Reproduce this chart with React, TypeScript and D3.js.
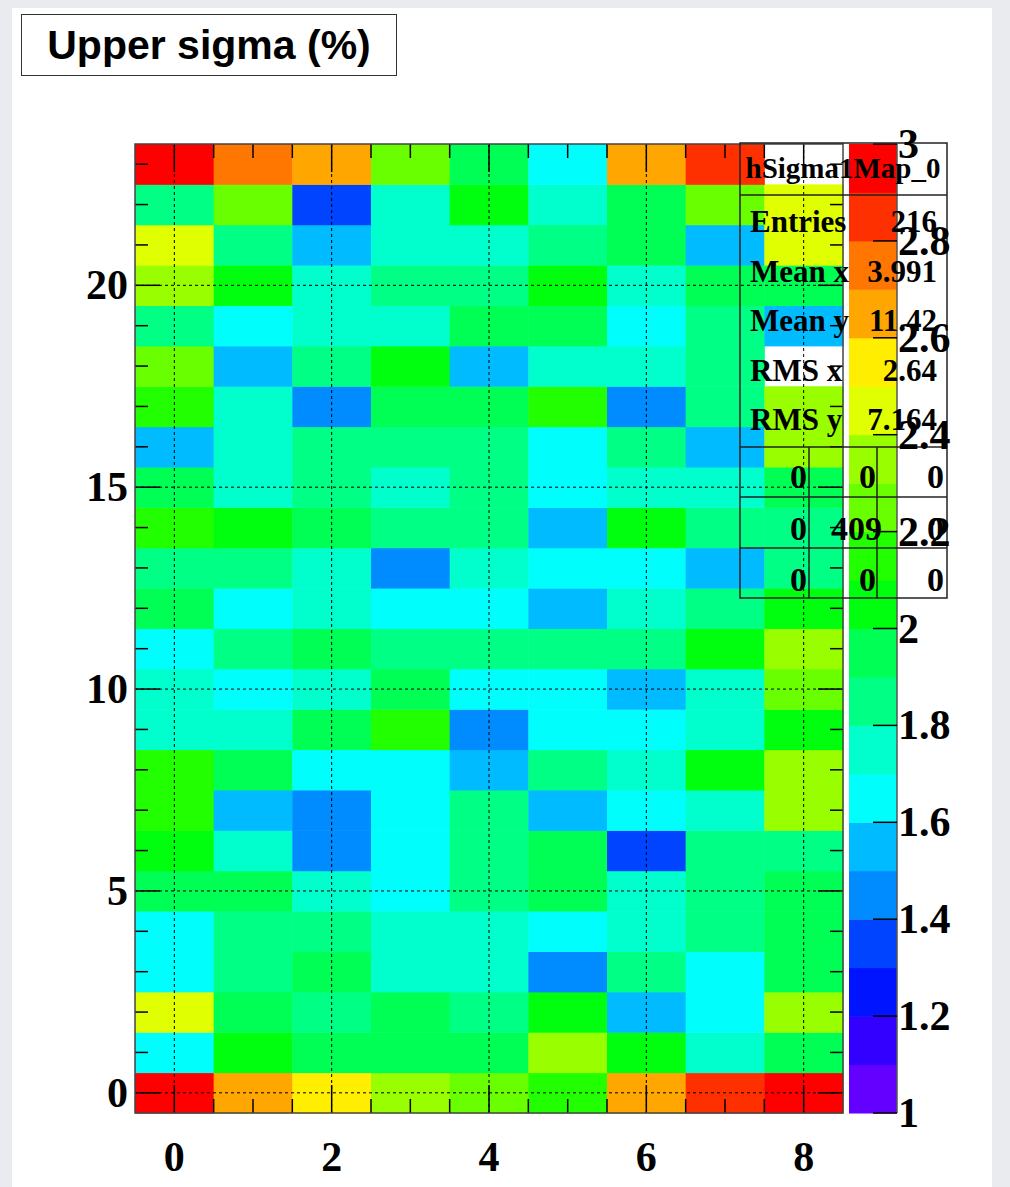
import React from "react";
import * as d3 from "d3";

// bin centres
const xBins = [0, 1, 2, 3, 4, 5, 6, 7, 8];
const yBins = [0, 1, 2, 3, 4, 5, 6, 7, 8, 9, 10, 11, 12, 13, 14, 15, 16, 17, 18, 19, 20, 21, 22, 23];

// upper sigma (%) per bin, one row per y bin (y = 0 first), columns x = 0..8
// null = empty bin (not painted)
const sigmaRows: (number | null)[][] = [
  [2.95, 2.65, 2.55, 2.35, 2.25, 2.15, 2.65, 2.85, 2.95],
  [1.65, 2.05, 1.95, 1.95, 1.95, 2.35, 2.05, 1.75, 1.95],
  [2.45, 1.95, 1.85, 1.95, 1.85, 2.05, 1.55, 1.65, 2.35],
  [1.65, 1.85, 1.95, 1.75, 1.75, 1.45, 1.85, 1.65, 1.95],
  [1.65, 1.85, 1.85, 1.75, 1.75, 1.65, 1.75, 1.85, 1.95],
  [1.95, 1.95, 1.75, 1.65, 1.85, 1.95, 1.75, 1.85, 1.95],
  [2.05, 1.75, 1.45, 1.65, 1.85, 1.95, 1.35, 1.85, 1.85],
  [2.15, 1.55, 1.45, 1.65, 1.85, 1.55, 1.65, 1.75, 2.35],
  [2.15, 1.95, 1.65, 1.65, 1.55, 1.85, 1.75, 2.05, 2.35],
  [1.75, 1.75, 1.95, 2.15, 1.45, 1.65, 1.65, 1.75, 2.05],
  [1.75, 1.65, 1.75, 1.95, 1.65, 1.65, 1.55, 1.75, 2.25],
  [1.65, 1.85, 1.95, 1.85, 1.85, 1.85, 1.85, 2.05, 2.35],
  [1.95, 1.65, 1.75, 1.65, 1.65, 1.55, 1.75, 1.85, 2.05],
  [1.85, 1.85, 1.75, 1.45, 1.75, 1.65, 1.65, 1.55, 1.85],
  [2.15, 2.05, 1.95, 1.85, 1.85, 1.55, 2.05, 1.85, 1.85],
  [1.95, 1.75, 1.85, 1.75, 1.85, 1.65, 1.75, 1.75, 1.95],
  [1.55, 1.75, 1.85, 1.85, 1.85, 1.65, 1.85, 1.55, 2.35],
  [2.15, 1.75, 1.45, 1.95, 1.95, 2.15, 1.45, 1.85, 2.35],
  [2.25, 1.55, 1.85, 2.05, 1.55, 1.75, 1.75, 1.85, null],
  [1.85, 1.65, 1.75, 1.75, 1.95, 1.95, 1.65, 1.85, 1.55],
  [2.35, 2.05, 1.75, 1.85, 1.85, 2.05, 1.75, 1.95, 1.95],
  [2.45, 1.85, 1.55, 1.75, 1.75, 1.85, 1.95, 1.55, 2.45],
  [1.85, 2.25, 1.35, 1.75, 2.05, 1.75, 1.95, 2.25, 2.45],
  [2.95, 2.75, 2.65, 2.25, 1.95, 1.65, 2.65, 2.85, null],
];

const xTickLabels = [0, 2, 4, 6, 8];
const yTickLabels = [0, 5, 10, 15, 20];
const zTickLabels = [1, 1.2, 1.4, 1.6, 1.8, 2, 2.2, 2.4, 2.6, 2.8, 3];

// ROOT rainbow palette, 20 contours from 1 to 3
const palette = [
  "#6300ff", "#3300ff", "#0014ff", "#0044ff", "#008bff",
  "#00bbff", "#00fffc", "#00ffcc", "#00ff85", "#00ff55",
  "#00ff0e", "#22ff00", "#69ff00", "#99ff00", "#e0ff00",
  "#ffee00", "#ffa700", "#ff7700", "#ff3000", "#ff0000",
];

const statsLabels = ["Entries", "Mean x", "Mean y", "RMS x", "RMS y"];
const statsValues = ["216", "3.991", "11.42", "2.64", "7.164"];
const overflowTable = [
  ["0", "0", "0"],
  ["0", "409", "0"],
  ["0", "0", "0"],
];

const serif = "'Liberation Serif', 'Times New Roman', serif";

export default function App() {
  const W = 1010;
  const H = 1187;
  const frame = { left: 135, right: 843, top: 144, bottom: 1113 };

  const x = d3.scaleLinear().domain([-0.5, 8.5]).range([frame.left, frame.right]);
  const y = d3.scaleLinear().domain([-0.5, 23.5]).range([frame.bottom, frame.top]);
  const color = d3.scaleQuantize<string>().domain([1, 3]).range(palette);
  const z = d3.scaleLinear().domain([1, 3]).range([frame.bottom, frame.top]);
  const zLevels = d3.range(palette.length).map((i) => 1 + (i * 2) / palette.length);
  const cw = x(1) - x(0);
  const ch = y(0) - y(1);

  const xMinor = d3.range(0, 8.5, 0.5);
  const yMinor = yBins;

  const bar = { left: 849, right: 897 };
  const stats = { left: 740, right: 947, top: 143, bottom: 598 };

  return (
    <>
      <style>{`body{margin:0}`}</style>
      <svg width={W} height={H} style={{ position: "absolute", left: 0, top: 0 }}>
        <rect width={W} height={H} fill="#e9ebee" />
        <rect x={12} y={8} width={980} height={H - 8} fill="#fff" />

        {/* title */}
        <rect x={21.5} y={14.5} width={375} height={61} fill="#fff" stroke="#333" />
        <text x={209} y={59} textAnchor="middle" fontFamily="'Liberation Sans', Arial, sans-serif"
          fontWeight="bold" fontSize={41}>Upper sigma (%)</text>

        {/* cells */}
        <g>
          {sigmaRows.map((row, j) =>
            row.map((v, i) =>
              v == null ? null : (
                <rect key={`${i}-${j}`} x={x(xBins[i] - 0.5)} y={y(yBins[j] + 0.5)}
                  width={cw + 0.5} height={ch + 0.5} fill={color(v)} />
              )
            )
          )}
        </g>

        {/* grid */}
        <g stroke="#000" strokeWidth={1} strokeDasharray="3,3">
          {xTickLabels.map((t) => (
            <line key={`gx${t}`} x1={x(t)} x2={x(t)} y1={frame.top} y2={frame.bottom} />
          ))}
          {yTickLabels.map((t) => (
            <line key={`gy${t}`} x1={frame.left} x2={frame.right} y1={y(t)} y2={y(t)} />
          ))}
        </g>

        {/* ticks */}
        <g stroke="#000" strokeWidth={1.5}>
          {xMinor.map((t) => {
            const len = t % 2 === 0 ? 28 : 14;
            return (
              <g key={`tx${t}`}>
                <line x1={x(t)} x2={x(t)} y1={frame.bottom} y2={frame.bottom - len} />
                <line x1={x(t)} x2={x(t)} y1={frame.top} y2={frame.top + len} />
              </g>
            );
          })}
          {yMinor.map((t) => {
            const len = t % 5 === 0 ? 25 : 13;
            return (
              <g key={`ty${t}`}>
                <line x1={frame.left} x2={frame.left + len} y1={y(t)} y2={y(t)} />
                <line x1={frame.right} x2={frame.right - len} y1={y(t)} y2={y(t)} />
              </g>
            );
          })}
        </g>

        <rect x={frame.left} y={frame.top} width={frame.right - frame.left}
          height={frame.bottom - frame.top} fill="none" stroke="#444" strokeWidth={1.5} />

        {/* axis labels */}
        <g fontFamily={serif} fontWeight="bold" fontSize={42}>
          {xTickLabels.map((t) => (
            <text key={`lx${t}`} x={x(t)} y={1171} textAnchor="middle">{t}</text>
          ))}
          {yTickLabels.map((t) => (
            <text key={`ly${t}`} x={128} y={y(t) + 14} textAnchor="end">{t}</text>
          ))}
        </g>

        {/* colour bar */}
        <g>
          {zLevels.map((lv, i) => (
            <rect key={`z${i}`} x={bar.left} y={z(lv + 0.1)} width={bar.right - bar.left}
              height={z(lv) - z(lv + 0.1) + 0.5} fill={palette[i]} />
          ))}
          <line x1={bar.right} x2={bar.right} y1={frame.top} y2={frame.bottom} stroke="#555" strokeWidth={1.5} />
          {zTickLabels.map((t) => (
            <line key={`zt${t}`} x1={bar.right} x2={bar.right - 24} y1={z(t)} y2={z(t)}
              stroke="#000" strokeWidth={1.5} />
          ))}
        </g>

        {/* stats box (transparent) */}
        <g fontFamily={serif} fontWeight="bold" fill="#000">
          <rect x={stats.left} y={stats.top} width={stats.right - stats.left}
            height={stats.bottom - stats.top} fill="none" stroke="#222" strokeWidth={1.5} />
          <line x1={stats.left} x2={stats.right} y1={195} y2={195} stroke="#222" strokeWidth={1.5} />
          <text x={843} y={178} textAnchor="middle" fontSize={29}>hSigma1Map_0</text>
          {statsLabels.map((s, i) => (
            <g key={s} fontSize={31}>
              <text x={750} y={232 + i * 49.5}>{s}</text>
              <text x={937} y={232 + i * 49.5} textAnchor="end">{statsValues[i]}</text>
            </g>
          ))}
          {[447, 497, 548].map((ly) => (
            <line key={`sl${ly}`} x1={stats.left} x2={stats.right} y1={ly} y2={ly}
              stroke="#222" strokeWidth={1.5} />
          ))}
          {[809, 877].map((lx) => (
            <line key={`sv${lx}`} x1={lx} x2={lx} y1={447} y2={stats.bottom}
              stroke="#222" strokeWidth={1.5} />
          ))}
          {overflowTable.map((row, r) =>
            row.map((v, c) => (
              <text key={`o${r}${c}`} x={[807, v.length > 1 ? 882 : 876, 944][c]}
                y={[488, 540, 591][r]} textAnchor="end" fontSize={34}>{v}</text>
            ))
          )}
        </g>

        {/* colour bar labels drawn last, as in ROOT */}
        <g fontFamily={serif} fontWeight="bold" fontSize={42}>
          {zTickLabels.map((t) => (
            <text key={`zl${t}`} x={898} y={z(t) + 14}>{t}</text>
          ))}
        </g>
      </svg>
    </>
  );
}
